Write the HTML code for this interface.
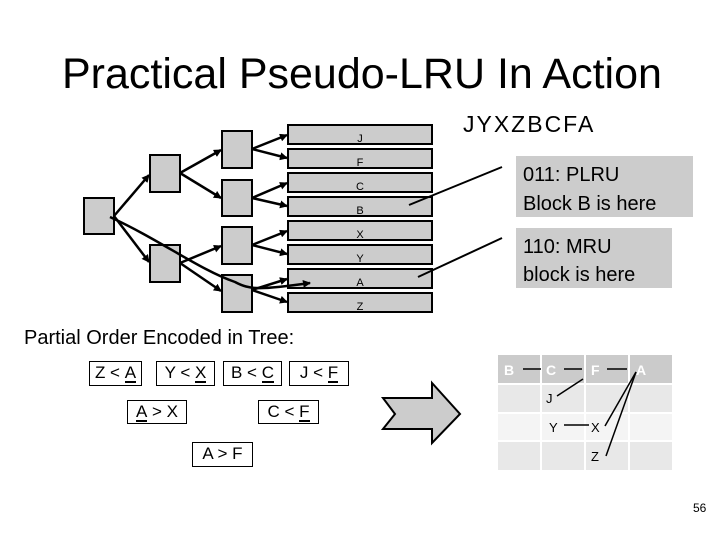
<!DOCTYPE html>
<html><head><style>
body{margin:0;width:720px;height:540px;background:#fff;overflow:hidden;position:relative;font-family:"Liberation Sans",sans-serif}
.t{position:absolute;white-space:nowrap}
.b{position:absolute;box-sizing:border-box;border:1px solid #000;background:#fff;font-size:17px;text-align:center;line-height:22px;white-space:nowrap}
.u{border-bottom:2.5px solid #000;line-height:16px;display:inline-block}
</style></head><body>
<div class="t" style="left:62px;top:50px;font-size:43px;">Practical Pseudo-LRU In Action</div>
<svg width="720" height="540" style="position:absolute;left:0;top:0" font-family="Liberation Sans, sans-serif">
<defs><marker id="ah" markerWidth="8" markerHeight="8" refX="7" refY="4" orient="auto" markerUnits="userSpaceOnUse"><path d="M0,0 L8,4 L0,8 z" fill="#000"/></marker></defs>
<g fill="#ccc" stroke="#000" stroke-width="2">
<rect x="84" y="198" width="30" height="36"/>
<rect x="150" y="155" width="30" height="37"/>
<rect x="150" y="245" width="30" height="37"/>
<rect x="222" y="131" width="30" height="37"/>
<rect x="222" y="180" width="30" height="36"/>
<rect x="222" y="227" width="30" height="37"/>
<rect x="222" y="275" width="30" height="37"/>
<rect x="288" y="125" width="144" height="19"/>
<rect x="288" y="149" width="144" height="19"/>
<rect x="288" y="173" width="144" height="19"/>
<rect x="288" y="197" width="144" height="19"/>
<rect x="288" y="221" width="144" height="19"/>
<rect x="288" y="245" width="144" height="19"/>
<rect x="288" y="269" width="144" height="19"/>
<rect x="288" y="293" width="144" height="19"/>
</g>
<g font-size="11" text-anchor="middle">
<text x="360" y="142">J</text><text x="360" y="166">F</text><text x="360" y="190">C</text><text x="360" y="214">B</text>
<text x="360" y="238">X</text><text x="360" y="262">Y</text><text x="360" y="286">A</text><text x="360" y="310">Z</text>
</g>
<g stroke="#000" stroke-width="2.5" marker-end="url(#ah)" fill="none">
<line x1="114" y1="216" x2="149" y2="175"/>
<line x1="114" y1="216" x2="149" y2="262"/>
<line x1="180" y1="173" x2="221" y2="150"/>
<line x1="180" y1="173" x2="221" y2="198"/>
<line x1="180" y1="263" x2="221" y2="246"/>
<line x1="180" y1="263" x2="221" y2="291"/>
<line x1="252" y1="149" x2="287" y2="135"/>
<line x1="252" y1="149" x2="287" y2="158"/>
<line x1="252" y1="198" x2="287" y2="183"/>
<line x1="252" y1="198" x2="287" y2="206"/>
<line x1="252" y1="245" x2="287" y2="231"/>
<line x1="252" y1="245" x2="287" y2="254"/>
<line x1="252" y1="290" x2="287" y2="279"/>
<line x1="252" y1="290" x2="287" y2="302"/>
<path d="M110,217 C160,240 200,270 235,282 C250,290 260,290 310,283"/>
</g>
<g stroke="#000" stroke-width="2">
<line x1="409" y1="205" x2="502" y2="167"/>
<line x1="418" y1="277" x2="502" y2="238"/>
</g>
<rect x="516" y="156" width="177" height="61" fill="#ccc"/>
<rect x="516" y="228" width="156" height="60" fill="#ccc"/>
<g font-size="20">
<text x="523" y="181">011: PLRU</text><text x="523" y="210">Block B is here</text>
<text x="523" y="253">110: MRU</text><text x="523" y="281">block is here</text>
</g>
<text x="463" y="132" font-size="23" letter-spacing="2">JYXZBCFA</text>
<text x="24" y="344" font-size="20">Partial Order Encoded in Tree:</text>
<polygon points="383,398 432,398 432,383 460,414 432,443 432,429 383,429 395,414" fill="#ccc" stroke="#000" stroke-width="2"/>
<g fill="#cbcbcb"><rect x="498" y="355" width="42" height="28"/><rect x="542" y="355" width="42" height="28"/><rect x="586" y="355" width="42" height="28"/><rect x="630" y="355" width="42" height="28"/></g>
<g fill="#e8e8e8"><rect x="498" y="385" width="42" height="27"/><rect x="542" y="385" width="42" height="27"/><rect x="586" y="385" width="42" height="27"/><rect x="630" y="385" width="42" height="27"/>
<rect x="498" y="442" width="42" height="28"/><rect x="542" y="442" width="42" height="28"/><rect x="586" y="442" width="42" height="28"/><rect x="630" y="442" width="42" height="28"/></g>
<g fill="#f4f4f4"><rect x="498" y="414" width="42" height="26"/><rect x="542" y="414" width="42" height="26"/><rect x="586" y="414" width="42" height="26"/><rect x="630" y="414" width="42" height="26"/></g>
<g font-size="14" fill="#fff" font-weight="bold"><text x="504" y="375">B</text><text x="546" y="375">C</text><text x="591" y="375">F</text><text x="636" y="375">A</text></g>
<g font-size="13"><text x="546" y="403">J</text><text x="549" y="432">Y</text><text x="591" y="432">X</text><text x="591" y="461">Z</text></g>
<g stroke="#000" stroke-width="1.5">
<line x1="523" y1="369" x2="541" y2="369"/><line x1="564" y1="369" x2="582" y2="369"/><line x1="607" y1="369" x2="627" y2="369"/>
<line x1="557" y1="396" x2="583" y2="379"/>
<line x1="564" y1="425" x2="589" y2="425"/>
<line x1="605" y1="426" x2="636" y2="372"/><line x1="606" y1="456" x2="636" y2="372"/>
</g>
<text x="693" y="512" font-size="12">56</text>
</svg>
<div class="b" style="left:89px;top:361px;width:53px;height:25px">Z &lt; <span class="u">A</span></div>
<div class="b" style="left:156px;top:361px;width:59px;height:25px">Y &lt; <span class="u">X</span></div>
<div class="b" style="left:223px;top:361px;width:59px;height:25px">B &lt; <span class="u">C</span></div>
<div class="b" style="left:289px;top:361px;width:60px;height:25px">J &lt; <span class="u">F</span></div>
<div class="b" style="left:127px;top:400px;width:60px;height:24px"><span class="u">A</span> &gt; X</div>
<div class="b" style="left:258px;top:400px;width:61px;height:24px">C &lt; <span class="u">F</span></div>
<div class="b" style="left:192px;top:442px;width:61px;height:25px">A &gt; F</div>
</body></html>
